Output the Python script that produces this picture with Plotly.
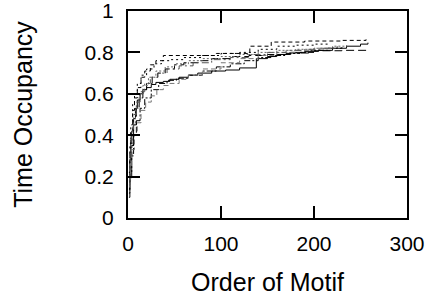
import plotly.graph_objects as go

# Series breakpoints (order of motif, cumulative time occupancy)
a_x = [1,2,3,4,6,8,10,13,16,20,25,30,38,45,55,65,75,90,105,120,138,150,160,175,190,205,220,235,250,258]
a_y = [0.14,0.28,0.36,0.42,0.48,0.53,0.57,0.6,0.62,0.63,0.645,0.655,0.66,0.67,0.68,0.69,0.7,0.71,0.715,0.725,0.77,0.78,0.79,0.8,0.805,0.81,0.82,0.83,0.84,0.847]
b_x = [1,2,4,6,9,12,16,20,26,32,40,50,60,75,90,110,130,150,170,196,230,260]
b_y = [0.12,0.22,0.35,0.45,0.53,0.58,0.62,0.65,0.68,0.7,0.72,0.74,0.75,0.76,0.77,0.78,0.785,0.79,0.797,0.808,0.81,0.81]
c_x = [1,2,3,5,7,10,14,18,24,30,38,95,131,154,190,230,256]
c_y = [0.2,0.32,0.42,0.52,0.58,0.63,0.68,0.71,0.74,0.76,0.785,0.795,0.83,0.85,0.855,0.858,0.863]
d_x = [1,3,5,8,12,16,22,30,40,50,65,80,100,120,140,160,180,200,220,235]
d_y = [0.18,0.35,0.45,0.53,0.6,0.64,0.68,0.71,0.73,0.745,0.76,0.77,0.78,0.79,0.8,0.81,0.815,0.82,0.83,0.835]
e_x = [1,2,4,6,9,13,18,25,33,42,52,65,80,95,110,125,140,155,170,185,200,215,230]
e_y = [0.1,0.2,0.3,0.4,0.47,0.53,0.58,0.62,0.65,0.665,0.675,0.69,0.71,0.73,0.745,0.76,0.775,0.785,0.795,0.8,0.81,0.82,0.825]
f_x = [1,2,4,7,10,14,19,25,31,38,45,55,65,80,100,120,140,160,180,200,220]
f_y = [0.15,0.25,0.33,0.4,0.46,0.52,0.56,0.59,0.62,0.64,0.65,0.67,0.69,0.72,0.75,0.77,0.785,0.8,0.81,0.82,0.83]
g_x = [1,2,3,5,7,10,14,20,28,36,45,60,80,100,120,140,160,180,200,215]
g_y = [0.22,0.36,0.45,0.55,0.6,0.65,0.69,0.72,0.745,0.76,0.765,0.775,0.785,0.795,0.8,0.815,0.83,0.835,0.84,0.845]
h_x = [1,2,4,6,9,13,18,24,32,42,55,70,90,110,130,150,170,190,210,225]
h_y = [0.16,0.3,0.42,0.5,0.56,0.61,0.65,0.68,0.7,0.72,0.735,0.75,0.765,0.775,0.79,0.8,0.81,0.815,0.82,0.83]

x_ticks = [0, 100, 200, 300]
y_ticks = [0, 0.2, 0.4, 0.6, 0.8, 1]
y_tick_labels = ["0", "0.2", "0.4", "0.6", "0.8", "1"]

series = [
    (a_x, a_y, "black", "solid"),
    (b_x, b_y, "black", "8px,4px"),
    (c_x, c_y, "black", "4px,3px"),
    (d_x, d_y, "#666666", "2px,2px"),
    (e_x, e_y, "black", "6px,2px,2px,2px"),
    (f_x, f_y, "#777777", "5px,3px"),
    (g_x, g_y, "black", "2px,3px"),
    (h_x, h_y, "#555555", "7px,3px,2px,3px"),
]

fig = go.Figure()
for xs, ys, col, dash in series:
    fig.add_trace(go.Scatter(x=xs, y=ys, mode="lines", line_shape="hv",
                             line=dict(color=col, width=1, dash=dash),
                             showlegend=False, hoverinfo="skip"))

font = dict(family="Liberation Sans, Arial, sans-serif", size=21, color="black")
fig.update_layout(
    width=436, height=296,
    margin=dict(l=128, r=29, t=11, b=78),
    paper_bgcolor="white", plot_bgcolor="white",
    font=font,
    xaxis=dict(range=[0, 300], tickvals=x_ticks, ticks="inside", ticklen=12,
               tickwidth=1.5, tickcolor="black", showline=True, linecolor="black",
               linewidth=2, mirror="ticks", showgrid=False, zeroline=False,
               automargin=False, ticklabelstandoff=6, ticklabeloverflow="allow",
               title=dict(text="Order of Motif", standoff=20), tickfont=font),
    yaxis=dict(range=[0, 1], tickvals=y_ticks, ticktext=y_tick_labels,
               ticks="inside", ticklen=12, tickwidth=1.5, tickcolor="black",
               showline=True, linecolor="black", linewidth=2, mirror="ticks",
               showgrid=False, zeroline=False, automargin=False,
               ticklabelstandoff=8, ticklabeloverflow="allow",
               title=dict(text="Time Occupancy", standoff=45), tickfont=font),
)

fig.write_html("out.html", config={"displayModeBar": False},
               post_script="document.body.style.margin='0';document.body.style.overflow='hidden';")
